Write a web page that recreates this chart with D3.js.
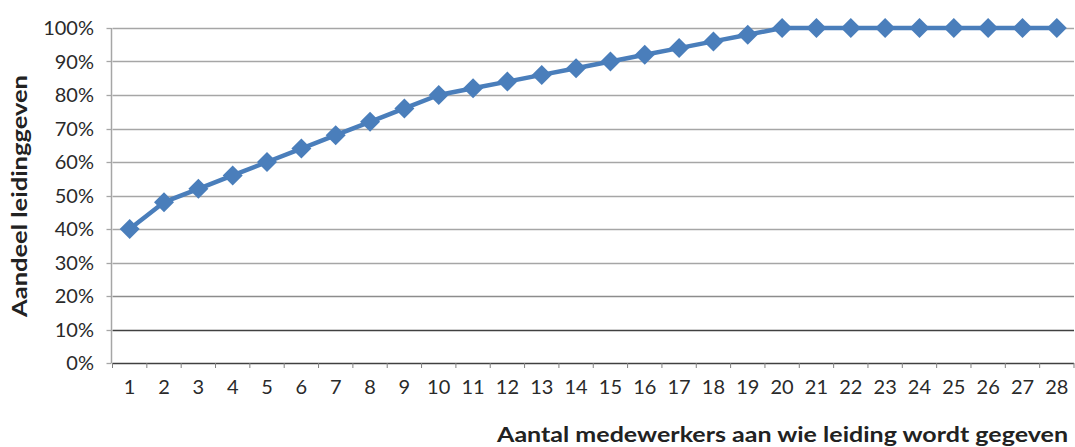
<!DOCTYPE html>
<html><head><meta charset="utf-8">
<script src="https://cdn.jsdelivr.net/npm/d3@7"></script>
<style>body{margin:0;background:#fff}svg{display:block}</style>
</head><body>
<svg id="c" width="1075" height="447"></svg>
<script>
const categories = [1,2,3,4,5,6,7,8,9,10,11,12,13,14,15,16,17,18,19,20,21,22,23,24,25,26,27,28];
const values = [0.40,0.48,0.52,0.56,0.60,0.64,0.68,0.72,0.76,0.80,0.82,0.84,0.86,0.88,0.90,0.92,0.94,0.96,0.98,1.00,1.00,1.00,1.00,1.00,1.00,1.00,1.00,1.00];
const yTicks = [0,0.1,0.2,0.3,0.4,0.5,0.6,0.7,0.8,0.9,1.0];
const xTitle = "Aantal medewerkers aan wie leiding  wordt gegeven";
const yTitle = "Aandeel leidinggeven";

const svg = d3.select("#c");
const font = "Lato, 'Open Sans', sans-serif";
const L = 112.5, R = 1074, T = 28, B = 363;
const x = d3.scaleBand().domain(categories).range([L, R]);
const y = d3.scaleLinear().domain([0,1]).range([B, T]);
const color = "#4a7ebb";

// gridlines
svg.append("g").selectAll("line").data(yTicks).join("line")
  .attr("x1", L).attr("x2", R)
  .attr("y1", d => Math.round(y(d)) + 0.5).attr("y2", d => Math.round(y(d)) + 0.5)
  .attr("stroke", d => d === 0 || d === 0.1 ? "#404040" : (d === 0.2 ? "#8c8c8c" : "#a6a6a6"))
  .attr("stroke-width", d => d === 0 || d === 0.1 ? 1.6 : 1.3);

// y axis line
svg.append("line").attr("x1", L - 1).attr("x2", L - 1).attr("y1", T).attr("y2", B)
  .attr("stroke", "#a6a6a6").attr("stroke-width", 1.5);

// y tick marks
svg.append("g").selectAll("line").data(yTicks).join("line")
  .attr("x1", L - 6).attr("x2", L - 1)
  .attr("y1", d => Math.round(y(d)) + 0.5).attr("y2", d => Math.round(y(d)) + 0.5)
  .attr("stroke", "#a6a6a6").attr("stroke-width", 1.3);

// x tick marks
const xt = categories.map(c => x(c)).concat([R]);
svg.append("g").selectAll("line").data(xt).join("line")
  .attr("x1", d => d).attr("x2", d => d).attr("y1", B).attr("y2", B + 5)
  .attr("stroke", "#808080").attr("stroke-width", 1);

// y labels
const yFmt = d3.format(".0%");
svg.append("g").selectAll("text").data(yTicks).join("text")
  .attr("x", 94).attr("y", d => y(d)).attr("dy", "0.36em")
  .attr("text-anchor", "end").attr("font-family", font).attr("font-size", 20)
  .attr("fill", "#2a2a2a").text(d => yFmt(d));

// x labels
svg.append("g").selectAll("text").data(categories).join("text")
  .attr("x", d => x(d) + x.bandwidth()/2).attr("y", 394)
  .attr("text-anchor", "middle").attr("font-family", font).attr("font-size", 20)
  .attr("fill", "#2a2a2a").text(d => d);

// line
const line = d3.line().x((d,i) => x(categories[i]) + x.bandwidth()/2).y(d => y(d));
svg.append("path").datum(values).attr("d", line).attr("fill", "none")
  .attr("stroke", color).attr("stroke-width", 4.5).attr("stroke-linejoin", "round");

// markers
svg.append("g").selectAll("path").data(values).join("path")
  .attr("transform", (d,i) => `translate(${x(categories[i]) + x.bandwidth()/2},${y(d)}) rotate(45)`)
  .attr("d", d3.symbol().type(d3.symbolSquare).size(200)).attr("fill", color);

// titles
svg.append("text").attr("x", 497).attr("y", 442)
  .attr("font-family", font).attr("font-weight", "bold").attr("font-size", 20)
  .attr("fill", "#222").attr("textLength", 571).attr("lengthAdjust", "spacingAndGlyphs")
  .text(xTitle);

svg.append("text").attr("transform", "translate(27,196) rotate(-90)")
  .attr("text-anchor", "middle")
  .attr("font-family", font).attr("font-weight", "bold").attr("font-size", 20)
  .attr("fill", "#222").attr("textLength", 242).attr("lengthAdjust", "spacingAndGlyphs")
  .text(yTitle);
</script>
</body></html>
